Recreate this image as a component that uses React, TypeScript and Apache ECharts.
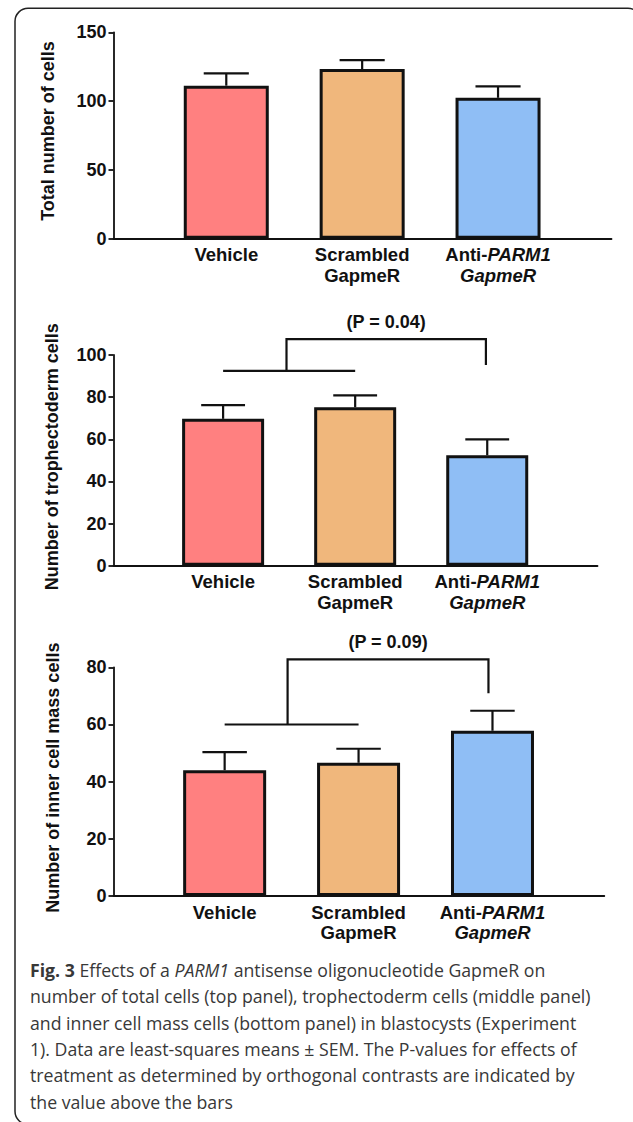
import React, { useEffect, useRef } from 'react';
import * as echarts from 'echarts';

// ---------- data ----------
const categoryX = [0, 1, 2];
const categoryLabels = [
  '{n|Vehicle}',
  '{n|Scrambled}\n{n|GapmeR}',
  '{n|Anti-}{i|PARM1}\n{i|GapmeR}',
];
const barColors = ['#FF8080', '#F0B77C', '#8FBEF5'];

const totalMeans = [111.2, 123.3, 102.4];
const totalSem = [9.0, 6.5, 8.3];
const tdMeans = [69.7, 75.2, 52.4];
const tdSem = [6.5, 5.6, 7.6];
const icmMeans = [44.0, 46.6, 57.8];
const icmSem = [6.3, 4.9, 7.0];

// bracket: [left group line y, top line y, right leg end y]
const tdBracket = [92.5, 107.5, 95.2];
const icmBracket = [60.0, 82.8, 70.9];
// bracket x: [group line start, group line end, stem x, right leg x]
const tdBracketX = [0, 1, 0.48, 1.99];
const icmBracketX = [0, 1, 0.47, 1.97];
const tdPLabel = '(P = 0.04)';
const icmPLabel = '(P = 0.09)';

const yTitles = ['Total number of cells', 'Number of trophectoderm cells', 'Number of inner cell mass cells'];
const yMaxes = [150, 100, 80];
const yIntervals = [50, 20, 20];

const captionLines = [
  '{b|Fig. 3} {r|Effects of a }{i|PARM1}{r| antisense oligonucleotide GapmeR on}',
  '{r|number of total cells (top panel), trophectoderm cells (middle panel)}',
  '{r|and inner cell mass cells (bottom panel) in blastocysts (Experiment}',
  '{r|1). Data are least-squares means ± SEM. The P-values for effects of}',
  '{r|treatment as determined by orthogonal contrasts are indicated by}',
  '{r|the value above the bars}',
];

// ---------- layout ----------
const FONT = '"Liberation Sans", Arial, Helvetica, sans-serif';
const CAP_FONT = '"Open Sans", sans-serif';
const CAP_SIZE = 17.7;
const CAP_COLOR = '#383838';
const grids = [
  { left: 113.5, top: 32.3, width: 498, height: 206.4 },
  { left: 113.5, top: 355, width: 484, height: 210.7 },
  { left: 113.5, top: 667.3, width: 490.8, height: 228.7 },
];
const barWidths = [85, 82, 83];
const nameGaps = [57, 53, 52];
const namePads = [9, 7, 8];
const X_MIN = -0.83;
const X_MAX = 2.835;
const INK = '#111';

function errorSeries(gi: number, means: number[], sems: number[]) {
  return {
    type: 'custom',
    xAxisIndex: gi,
    yAxisIndex: gi,
    z: 5,
    data: categoryX.map((x, i) => [x, means[i], sems[i]]),
    renderItem: (params: any, api: any) => {
      const x = api.value(0);
      const m = api.value(1);
      const top = m + api.value(2);
      const p0 = api.coord([x, m]);
      const p1 = api.coord([x, top]);
      const cl = api.coord([x - 0.166, top]);
      const cr = api.coord([x + 0.166, top]);
      const st = { stroke: INK, lineWidth: 2.2 };
      return {
        type: 'group',
        children: [
          { type: 'line', shape: { x1: p0[0], y1: p0[1], x2: p1[0], y2: p1[1] }, style: st },
          { type: 'line', shape: { x1: cl[0], y1: cl[1], x2: cr[0], y2: cr[1] }, style: st },
        ],
      };
    },
  };
}

function bracketSeries(gi: number, ys: number[], xs: number[], label: string) {
  return {
    type: 'custom',
    xAxisIndex: gi,
    yAxisIndex: gi,
    clip: false,
    z: 6,
    data: [[(xs[2] + xs[3]) / 2, ys[1]]],
    renderItem: (params: any, api: any) => {
      const a = api.coord([xs[0], ys[0]]);
      const b = api.coord([xs[1], ys[0]]);
      const s0 = api.coord([xs[2], ys[0]]);
      const s1 = api.coord([xs[2], ys[1]]);
      const r0 = api.coord([xs[3], ys[1]]);
      const r1 = api.coord([xs[3], ys[2]]);
      const t = api.coord([api.value(0), api.value(1)]);
      const st = { stroke: INK, lineWidth: 2.2, fill: null };
      return {
        type: 'group',
        children: [
          { type: 'line', shape: { x1: a[0], y1: a[1], x2: b[0], y2: b[1] }, style: st },
          { type: 'polyline', shape: { points: [s0, s1, r0, r1] }, style: st },
          {
            type: 'text',
            x: t[0],
            y: t[1] - 17.5,
            style: {
              text: label,
              fill: INK,
              font: `bold 18px ${FONT}`,
              align: 'center',
              verticalAlign: 'middle',
            },
          },
        ],
      };
    },
  };
}

export default function App() {
  const ref = useRef<HTMLDivElement>(null);
  useEffect(() => {
    if (!ref.current) return;
    const chart = echarts.init(ref.current, null, { renderer: 'svg' });
    const lineStyle = { color: INK, width: 1.8 };
    const meansList = [totalMeans, tdMeans, icmMeans];
    const semList = [totalSem, tdSem, icmSem];

    const xAxis = grids.map((_, gi) => ({
      gridIndex: gi,
      type: 'value',
      min: X_MIN,
      max: X_MAX,
      axisLine: { show: true, onZero: false, lineStyle },
      axisTick: { show: false },
      splitLine: { show: false },
      axisLabel: {
        customValues: categoryX,
        margin: 6,
        formatter: (v: number) => categoryLabels[Math.round(v)],
        rich: {
          n: { fontFamily: FONT, fontWeight: 'bold', fontSize: 18.5, color: INK, lineHeight: 20.5 },
          i: { fontFamily: FONT, fontWeight: 'bold', fontStyle: 'italic', fontSize: 18.5, color: INK, lineHeight: 20.5 },
        },
      },
    }));

    const yAxis = grids.map((_, gi) => ({
      gridIndex: gi,
      type: 'value',
      min: 0,
      max: yMaxes[gi],
      interval: yIntervals[gi],
      axisLine: { show: true, onZero: false, lineStyle },
      axisTick: { show: true, length: 5, lineStyle },
      splitLine: { show: false },
      axisLabel: { margin: 7, fontFamily: FONT, fontWeight: 'bold', fontSize: 18, color: INK },
      name: yTitles[gi],
      nameLocation: 'middle',
      nameGap: nameGaps[gi],
      nameTextStyle: {
        fontFamily: FONT,
        fontWeight: 'bold',
        fontSize: 18,
        color: INK,
        padding: [0, 0, 0, namePads[gi]],
      },
    }));

    const series: any[] = [];
    grids.forEach((_, gi) => {
      series.push({
        type: 'bar',
        xAxisIndex: gi,
        yAxisIndex: gi,
        barWidth: barWidths[gi],
        z: 3,
        data: categoryX.map((x, i) => ({
          value: [x, meansList[gi][i]],
          itemStyle: { color: barColors[i], borderColor: INK, borderWidth: 3 },
        })),
      });
      series.push(errorSeries(gi, meansList[gi], semList[gi]));
    });
    series.push(bracketSeries(1, tdBracket, tdBracketX, tdPLabel));
    series.push(bracketSeries(2, icmBracket, icmBracketX, icmPLabel));

    const captionRich = {
      b: { fontFamily: CAP_FONT, fontWeight: 'bold', fontSize: CAP_SIZE, fill: CAP_COLOR },
      r: { fontFamily: CAP_FONT, fontSize: CAP_SIZE, fill: CAP_COLOR },
      i: { fontFamily: CAP_FONT, fontStyle: 'italic', fontSize: CAP_SIZE, fill: CAP_COLOR },
    };

    chart.setOption({
      animation: false,
      backgroundColor: '#ffffff',
      grid: grids,
      xAxis,
      yAxis,
      series,
      graphic: [
        {
          type: 'rect',
          silent: true,
          z: -10,
          shape: { x: 15, y: 8.3, width: 626, height: 1116, r: 13 },
          style: { fill: 'none', stroke: '#222', lineWidth: 1.5 },
        },
        ...captionLines.map((line, k) => ({
          type: 'text',
          silent: true,
          x: 30,
          y: 970 + k * 26.3,
          style: {
            text: line,
            rich: captionRich,
            fill: CAP_COLOR,
            font: `${CAP_SIZE}px ${CAP_FONT}`,
            verticalAlign: 'middle',
            align: 'left',
          },
        })),
      ],
    });
    return () => chart.dispose();
  }, []);
  return <div ref={ref} style={{ position: 'absolute', left: 0, top: 0, width: 633, height: 1122 }} />;
}
